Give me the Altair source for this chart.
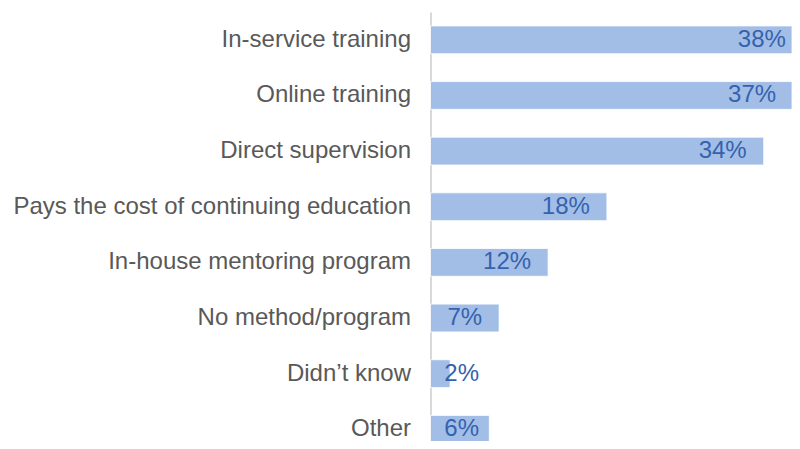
import altair as alt
import pandas as pd

categories = [
    "In-service training",
    "Online training",
    "Direct supervision",
    "Pays the cost of continuing education",
    "In-house mentoring program",
    "No method/program",
    "Didn\u2019t know",
    "Other",
]
values = [38, 37, 34, 18, 12, 7, 2, 6]
labels = ["38%", "37%", "34%", "18%", "12%", "7%", "2%", "6%"]

df = pd.DataFrame({"cat": categories, "v": values, "lab": labels})

FONT = "Liberation Sans"
PX_PER_PCT = 9.8
LEFT = 422.5
PLOT_W = 784 - LEFT
XMAX = PLOT_W / PX_PER_PCT
STEP = 55.64

x_scale = alt.Scale(domain=[0, XMAX], clamp=True, nice=False, zero=True)
y_scale = alt.Scale(range=[0, STEP * 8], paddingInner=0.5, paddingOuter=0.25)

base = alt.Chart(df).encode(
    y=alt.Y("cat:N", sort=categories, scale=y_scale,
            axis=alt.Axis(title=None, ticks=False, tickSize=0, labelPadding=20,
                          labelFont=FONT, labelFontSize=24, labelColor="#595959",
                          labelLimit=0, domainColor="#d9d9d9", domainWidth=2,
                          grid=False))
)

bars = base.mark_bar(color="#a3bee6", stroke="#ffffff", strokeWidth=0.8).encode(
    x=alt.X("v:Q", scale=x_scale, axis=None)
)

text = base.transform_calculate(
    lx=f"max(datum.v - {17 / PX_PER_PCT}, {48.5 / PX_PER_PCT})"
).mark_text(align="right", baseline="middle", font=FONT, fontSize=24,
            color="#3562ae").encode(
    x=alt.X("lx:Q", scale=x_scale, axis=None),
    text="lab:N",
)

chart = (bars + text).properties(
    width=PLOT_W,
    height=429,
    autosize=alt.AutoSizeParams(type="none"),
    padding={"left": LEFT, "top": 4, "right": 0, "bottom": 0},
).configure_view(stroke=None)

chart.save("out.html", embed_options={"renderer": "svg", "actions": False})
